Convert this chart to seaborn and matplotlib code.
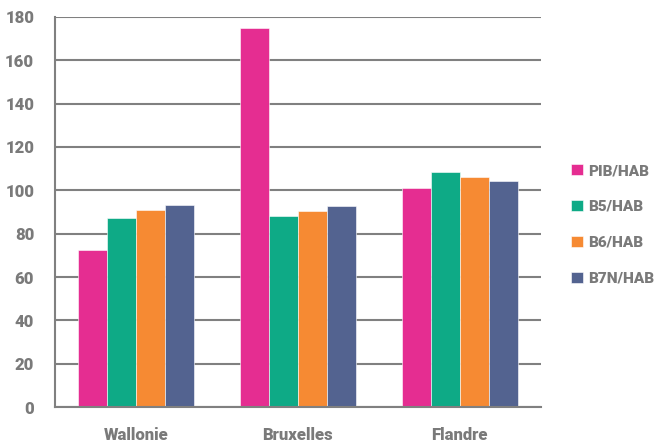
import matplotlib
matplotlib.use("Agg")
import matplotlib.pyplot as plt
import pandas as pd
import seaborn as sns

# ===== Data =====
regions = ["Wallonie", "Bruxelles", "Flandre"]
series = ["PIB/HAB", "B5/HAB", "B6/HAB", "B7N/HAB"]
pib = [72.5, 175, 101.2]
b5 = [87.4, 88.2, 108.4]
b6 = [90.9, 90.3, 106.1]
b7n = [93.3, 92.6, 104.4]
colors = ["#E52D91", "#0EAA86", "#F68A33", "#536390"]
yticks = [0, 20, 40, 60, 80, 100, 120, 140, 160, 180]

df = pd.DataFrame({
    "region": regions * 4,
    "serie": [s for s in series for _ in regions],
    "valeur": pib + b5 + b6 + b7n,
})

sns.set_style("white")
plt.rcParams["font.family"] = ["Roboto", "DejaVu Sans"]
grey = "#7a7a7a"

fig = plt.figure(figsize=(6.54, 4.43), dpi=100)
ax = fig.add_axes([0.084, 0.081, 0.743, 0.881])

sns.barplot(data=df, x="region", y="valeur", hue="serie", hue_order=series,
            palette=colors, width=0.72, saturation=1, ax=ax,
            edgecolor="white", linewidth=0.4, errorbar=None)

ax.set_ylim(0, 180)
ax.set_xlim(-0.5, 2.5)
ax.set_yticks(yticks)
ax.yaxis.grid(True, color="#808080", linewidth=1.5)
ax.set_axisbelow(True)
for s in ["top", "right"]:
    ax.spines[s].set_visible(False)
for s in ["left", "bottom"]:
    ax.spines[s].set_color("#808080")
    ax.spines[s].set_linewidth(1.5)
ax.tick_params(length=0, labelsize=12, labelcolor=grey)
ax.tick_params(axis="y", pad=15)
ax.tick_params(axis="x", pad=14)
for lab in ax.get_xticklabels() + ax.get_yticklabels():
    lab.set_fontweight("heavy")
ax.set_xlabel("")
ax.set_ylabel("")

ax.legend(loc="center left", bbox_to_anchor=(1.049, 0.467), frameon=False,
          borderaxespad=0, handlelength=0.78, handleheight=0.78,
          handletextpad=0.33, labelspacing=1.43,
          prop={"weight": "heavy", "size": 11}, labelcolor=grey)

fig.savefig("out.png", dpi=100)
